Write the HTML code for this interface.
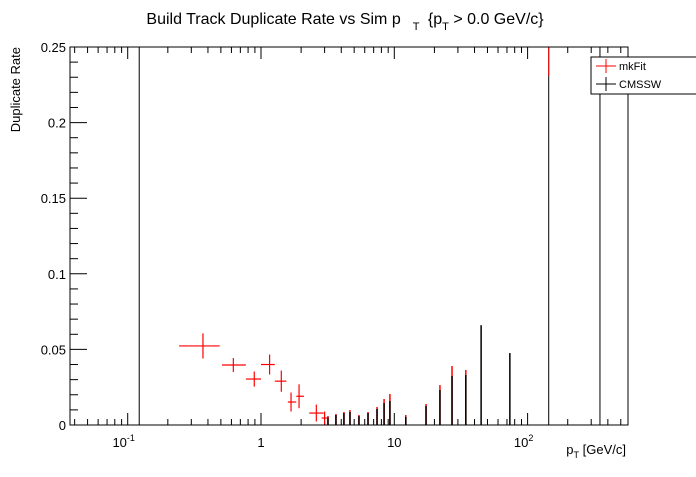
<!DOCTYPE html>
<html><head><meta charset="utf-8"><style>
body{margin:0;background:#fff;width:696px;height:472px;overflow:hidden}
svg{font-family:"Liberation Sans",Arial,sans-serif}
</style></head><body>
<svg id="chart" width="696" height="472" viewBox="0 0 696 472">
<rect width="696" height="472" fill="#fff"/>
<text x="345" y="24" font-size="16" text-anchor="middle">Build Track Duplicate Rate vs Sim p<tspan dy="6" font-size="11" dx="12">T</tspan><tspan dy="-6" dx="4"> {p</tspan><tspan dy="6" font-size="11">T</tspan><tspan dy="-6"> &gt; 0.0 GeV/c}</tspan></text>
<g id="grid"></g>
<g id="marks"></g>
<rect x="70" y="47" width="558" height="378" fill="none" stroke="#000" stroke-width="1"/>
<text transform="translate(20,47) rotate(-90)" font-size="13" text-anchor="end">Duplicate Rate</text>
<text x="626" y="454" font-size="13" text-anchor="end">p<tspan dy="4" font-size="9">T</tspan><tspan dy="-4"> [GeV/c]</tspan></text>
<g>
<rect x="591" y="57" width="110" height="37" fill="#fff" stroke="#000"/>
<line x1="596" y1="66" x2="616" y2="66" stroke="red"/><line x1="606" y1="59" x2="606" y2="73" stroke="red"/>
<text x="619" y="70" font-size="11">mkFit</text>
<line x1="596" y1="84" x2="616" y2="84" stroke="#000"/><line x1="606" y1="77" x2="606" y2="91" stroke="#000"/>
<text x="619" y="88" font-size="11">CMSSW</text>
</g>
</svg>
<script>
// mkFit points
const mkX    = [0.367,0.62,0.89,1.16,1.42,1.68,1.93,2.6,3.0];
const mkXlo  = [0.243,0.51,0.77,1.00,1.27,1.59,1.84,2.3,2.85];
const mkXhi  = [0.49,0.77,1.00,1.27,1.55,1.84,2.1,2.95,3.2];
const mkY    = [0.0523,0.0397,0.0304,0.040,0.029,0.0152,0.019,0.0079,0.0046];
const mkErr  = [0.0083,0.0046,0.005,0.0066,0.007,0.0063,0.0079,0.0056,0.0043];
// high-pt bins: x, mkFit top, CMSSW top
const binX   = [3.18,3.65,4.19,4.65,5.43,6.35,7.42,8.38,9.27,12.2,17.3,22.0,27.1,34.4,44.8,73.6];
const mkTop  = [0.0059,0.0073,0.0086,0.0099,0.0066,0.0086,0.0119,0.0172,0.0205,0.0066,0.0139,0.0264,0.039,0.0364,0,0];
const cmTop  = [0.0053,0.0066,0.0079,0.0086,0.0059,0.0079,0.0106,0.0145,0.0159,0.0053,0.0126,0.0231,0.0324,0.033,0.066,0.0476];
// full-height bins
const fullX  = [0.122,144,349];
const yTicks = [0,0.05,0.1,0.15,0.2,0.25];
const yLabels= ["0","0.05","0.1","0.15","0.2","0.25"];
const xDecades=[-1,0,1,2];
const xLabels=["10","1","10","10"];
const xExp   =["-1","","","2"];

const L=70,R=628,T=47,B=425;
const xs=v=>261+(Math.log10(v))*133.3;
const ys=v=>B-(v/0.25)*(B-T);
const NS="http://www.w3.org/2000/svg";
const marks=document.getElementById('marks'), grid=document.getElementById('grid');
function ln(p,x1,y1,x2,y2,c,w){const l=document.createElementNS(NS,'line');l.setAttribute('x1',x1);l.setAttribute('y1',y1);l.setAttribute('x2',x2);l.setAttribute('y2',y2);l.setAttribute('stroke',c);l.setAttribute('stroke-width',w||1);p.appendChild(l);return l;}
function tx(p,x,y,s,fs,anchor){const t=document.createElementNS(NS,'text');t.setAttribute('x',x);t.setAttribute('y',y);t.setAttribute('font-size',fs);t.setAttribute('text-anchor',anchor);t.textContent=s;p.appendChild(t);return t;}
// x ticks
for(let d=-2;d<=2;d++){for(let m=1;m<=9;m++){const v=m*Math.pow(10,d);const x=xs(v);if(x<L||x>R)continue;const len=m===1?12:6;
const a=ln(grid,x,B,x,B-len,'#000');


const b=ln(grid,x,T,x,T+len,'#000');

}}
xDecades.forEach((d,i)=>{const x=xs(Math.pow(10,d));const t=tx(grid,x,447,xLabels[i],13,'middle');


if(xExp[i]){t.setAttribute('x',x-4);const s=document.createElementNS(NS,'tspan');s.setAttribute('dy','-6');s.setAttribute('font-size','9');s.textContent=xExp[i];t.appendChild(s);}});
// y ticks
for(let v=0;v<=0.2501;v+=0.01){const y=ys(v);const major=Math.abs(v/0.05-Math.round(v/0.05))<1e-6;const len=major?17:8;
const a=ln(grid,L,y,L+len,y,'#000');

}
yTicks.forEach((v,i)=>{const t=tx(grid,66,ys(v)+5,yLabels[i],13,'end');

});
// full height bins
fullX.forEach(v=>{const l=ln(marks,xs(v),B,xs(v),T,'#000');

});
const r=ln(marks,xs(fullX[1]),T,xs(fullX[1]),ys(0.231),'red');


// bins
binX.forEach((v,i)=>{const x=xs(v);
if(mkTop[i]>0){const a=ln(marks,x,B,x,ys(mkTop[i]),'red',1.5);

}
const b=ln(marks,x,B,x,ys(cmTop[i]),'#000',1.5);

});
// mkFit points
mkX.forEach((v,i)=>{const g=document.createElementNS(NS,'g');


ln(g,xs(mkXlo[i]),ys(mkY[i]),xs(mkXhi[i]),ys(mkY[i]),'red',1.2);
ln(g,xs(v),ys(mkY[i]-mkErr[i]),xs(v),ys(mkY[i]+mkErr[i]),'red',1.2);
marks.appendChild(g);});
</script>
</body></html>
